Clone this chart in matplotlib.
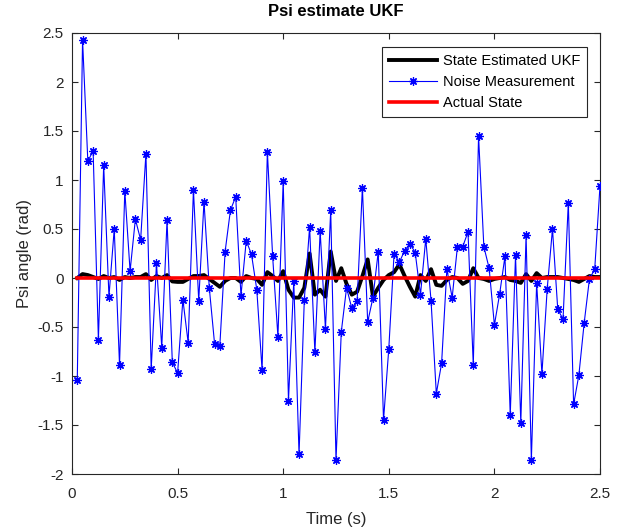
import numpy as np
import matplotlib
matplotlib.use("Agg")
import matplotlib.pyplot as plt

plt.rcParams['font.family'] = ['Liberation Sans', 'DejaVu Sans']

# time samples
dt = 0.025
n_points = 100

noise = [-1.04, 2.43, 1.19, 1.30, -0.63, 1.15, -0.19, 0.50, -0.89, 0.89,
         0.07, 0.60, 0.39, 1.27, -0.93, 0.15, -0.71, 0.59, -0.86, -0.97,
         -0.22, -0.66, 0.90, -0.23, 0.78, -0.10, -0.67, -0.69, 0.27, 0.69,
         0.83, -0.18, 0.38, 0.24, -0.12, -0.94, 1.29, 0.22, -0.60, 0.99,
         -1.25, -0.03, -1.80, -0.22, 0.52, -0.76, 0.48, -0.52, 0.69, -1.86,
         -0.55, -0.10, -0.31, -0.23, 0.92, -0.45, -0.20, 0.27, -1.45, -0.72,
         0.25, 0.16, 0.28, 0.35, 0.26, -0.17, 0.40, -0.23, -1.18, -0.87,
         0.09, -0.20, 0.32, 0.32, 0.47, -0.89, 1.45, 0.32, 0.10, -0.48,
         -0.16, 0.22, -1.40, 0.23, -1.48, 0.44, -1.86, -0.05, -0.98, -0.11,
         0.50, -0.32, -0.42, 0.77, -1.29, -0.99, -0.46, -0.01, 0.09, 0.94]

ukf = [0.00, 0.04, 0.03, 0.01, -0.01, 0.02, 0.00, 0.01, -0.02, 0.01,
       0.00, 0.01, 0.01, 0.04, -0.02, 0.02, 0.00, 0.03, -0.035, -0.04,
       -0.04, -0.01, 0.02, 0.02, 0.03, -0.01, -0.05, -0.09, -0.03, 0.00,
       0.00, -0.04, 0.02, 0.00, -0.01, -0.07, 0.06, 0.02, -0.03, 0.07,
       -0.12, -0.20, -0.20, -0.10, 0.25, -0.17, -0.12, -0.19, 0.27, -0.03,
       0.10, -0.06, -0.17, -0.14, 0.02, 0.19, -0.19, -0.10, -0.02, 0.03,
       0.06, 0.14, 0.02, -0.09, -0.19, 0.03, -0.03, 0.09, -0.07, -0.08,
       -0.02, 0.01, 0.00, -0.06, -0.03, 0.10, 0.00, -0.01, -0.03, -0.01,
       0.00, 0.01, -0.02, -0.03, -0.05, 0.04, -0.03, 0.05, 0.00, 0.01,
       0.01, 0.01, 0.00, -0.01, -0.02, -0.04, -0.01, 0.02, 0.01, 0.01]

actual = [0.0] * n_points

t = dt * np.arange(1, n_points + 1)

fig = plt.figure(figsize=(6.17, 5.30), dpi=100)
ax = fig.add_axes([72/617, 1 - 474/530, 528/617, 441/530])

ax.plot(t, ukf, color='black', lw=2.8, label='State Estimated UKF', zorder=2)
ax.plot(t, noise, color=(0, 0, 1), lw=0.8, marker=(8, 2, 0), ms=6,
        mew=0.9, label='Noise Measurement', zorder=3)
ax.plot(t, actual, color=(1, 0, 0), lw=2.6, label='Actual State', zorder=4)

ax.set_xlim(0, 2.5)
ax.set_ylim(-2, 2.5)
ax.set_xticks([0, 0.5, 1, 1.5, 2, 2.5])
ax.set_xticklabels(['0', '0.5', '1', '1.5', '2', '2.5'])
ax.set_yticks([-2, -1.5, -1, -0.5, 0, 0.5, 1, 1.5, 2, 2.5])
ax.set_yticklabels(['-2', '-1.5', '-1', '-0.5', '0', '0.5', '1', '1.5', '2', '2.5'])

gray = (0.15, 0.15, 0.15)
for s in ax.spines.values():
    s.set_color(gray)
    s.set_linewidth(0.8)
ax.tick_params(direction='in', length=4, width=0.8, colors=gray,
               labelsize=11, top=True, right=True)
ax.tick_params(axis='x', pad=9)
ax.tick_params(axis='y', pad=6)

ax.set_title('Psi estimate UKF', fontsize=12, fontweight='bold', pad=12)
ax.set_xlabel('Time (s)', fontsize=12, color=gray, labelpad=8)
ax.set_ylabel('Psi angle (rad)', fontsize=12, color=gray, labelpad=4)

leg = ax.legend(loc='upper right', bbox_to_anchor=(0.975, 0.968),
                borderaxespad=0, fancybox=False, framealpha=1,
                edgecolor=gray, fontsize=10.5, handlelength=3.3,
                handletextpad=0.4, labelspacing=0.5, borderpad=0.45)
leg.get_frame().set_linewidth(0.8)

fig.savefig('out.png', dpi=100)
